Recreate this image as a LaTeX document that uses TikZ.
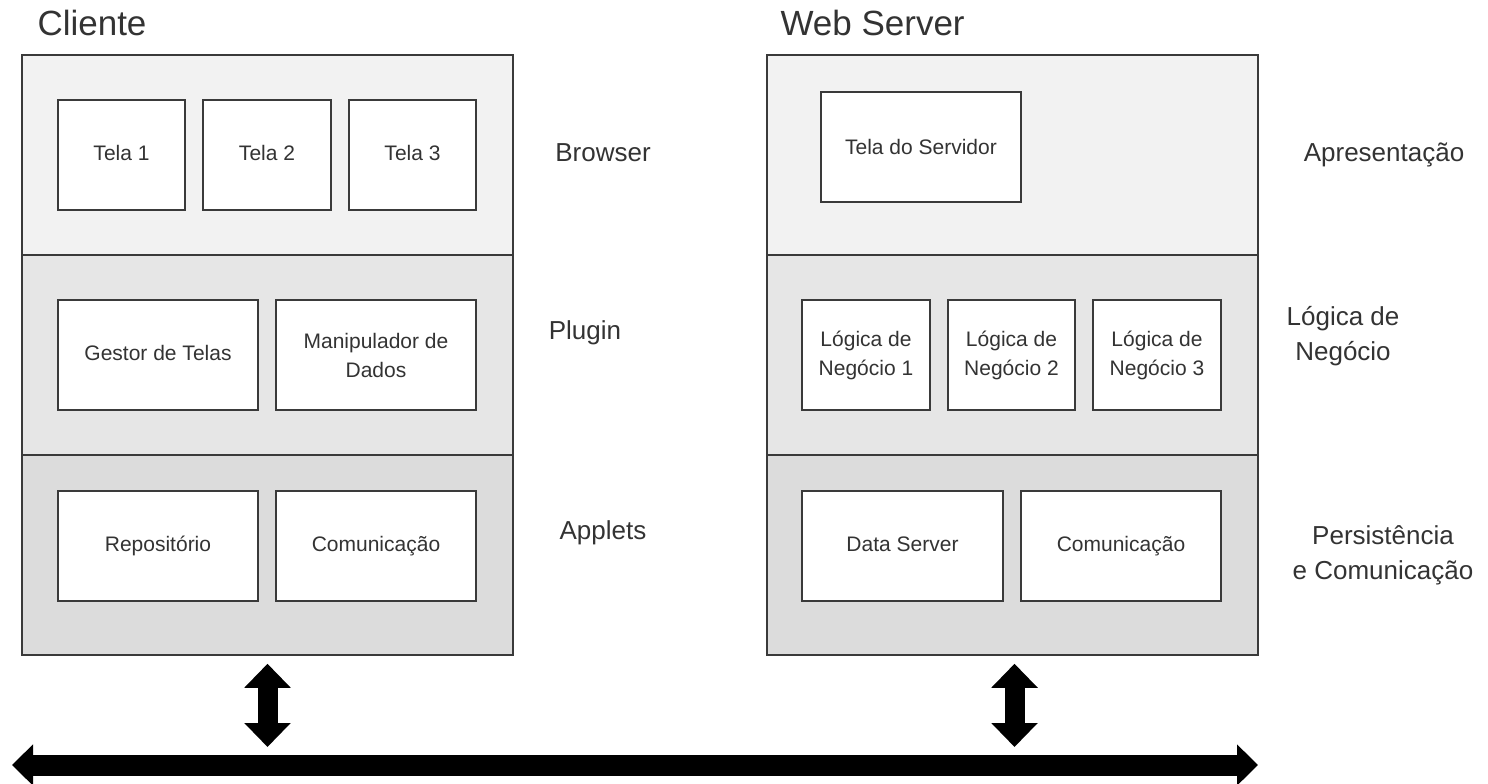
\documentclass[tikz,border=0pt]{standalone}
\usepackage{fontspec}
\setmainfont{Liberation Sans}
\usetikzlibrary{arrows.meta}
\definecolor{ink}{HTML}{333333}
\definecolor{edge}{HTML}{3A3A3A}
\definecolor{secA}{HTML}{F2F2F2}
\definecolor{secB}{HTML}{E6E6E6}
\definecolor{secC}{HTML}{DCDCDC}
\begin{document}
\begin{tikzpicture}[x=1pt,y=-1pt,
  sec/.style={draw=edge,line width=1.5pt,minimum width=491pt,minimum height=200pt,inner sep=0pt},
  bx/.style={draw=edge,line width=1.5pt,fill=white,text=ink,inner sep=0pt,align=center,
    font=\fontsize{21}{29}\selectfont},
  one/.style={text height=15pt,text depth=5pt},
  lbl/.style={text=ink,align=center,font=\fontsize{26}{35}\selectfont},
  ttl/.style={text=ink,anchor=west,font=\fontsize{35}{40}\selectfont},
  vdbl/.style={line width=20pt,{Triangle[width=45pt,length=24pt]}-{Triangle[width=45pt,length=24pt]}},
  hbus/.style={line width=21pt,{Triangle[width=40pt,length=21pt]}-{Triangle[width=40pt,length=21pt]}}
]
\useasboundingbox (0,0) rectangle (1488,784);

% titles
\node[ttl] (tcli) at (34,23) {Cliente};
\node[ttl] (tweb) at (777,23) {Web Server};

% client sections
\node[sec,fill=secA] (c1) at (267.5,155) {};
\node[sec,fill=secB] (c2) at (267.5,355) {};
\node[sec,fill=secC] (c3) at (267.5,555) {};
% server sections
\node[sec,fill=secA] (s1) at (1012.5,155) {};
\node[sec,fill=secB] (s2) at (1012.5,355) {};
\node[sec,fill=secC] (s3) at (1012.5,555) {};

% client boxes
\node[bx,one,minimum width=127pt,minimum height=110pt] (t1) at (121.5,155) {Tela 1};
\node[bx,one,minimum width=128pt,minimum height=110pt] (t2) at (267,155) {Tela 2};
\node[bx,one,minimum width=127pt,minimum height=110pt] (t3) at (412.5,155) {Tela 3};
\node[bx,one,minimum width=200pt,minimum height=110pt] (gt) at (158,355) {Gestor de Telas};
\node[bx,minimum width=200pt,minimum height=110pt] (md) at (376,355) {Manipulador de\\Dados};
\node[bx,one,minimum width=200pt,minimum height=110pt] (rp) at (158,546) {Repositório};
\node[bx,one,minimum width=200pt,minimum height=110pt] (cc) at (376,546) {Comunicação};

% server boxes
\node[bx,minimum width=200pt,minimum height=110pt,anchor=north,text height=16pt] (ts) at (921,91) {\\[-12pt]Tela do Servidor};
\node[bx,minimum width=128pt,minimum height=110pt] (l1) at (866,355) {Lógica de\\Negócio 1};
\node[bx,minimum width=127pt,minimum height=110pt] (l2) at (1011.5,355) {Lógica de\\Negócio 2};
\node[bx,minimum width=128pt,minimum height=110pt] (l3) at (1157,355) {Lógica de\\Negócio 3};
\node[bx,one,minimum width=201pt,minimum height=110pt] (ds) at (902.5,546) {Data Server};
\node[bx,one,minimum width=200pt,minimum height=110pt] (sc) at (1121,546) {Comunicação};

% side labels
\node[lbl] (lb1) at (603,153) {Browser};
\node[lbl] (lb2) at (585,333) {Plugin};
\node[lbl] (lb3) at (603,533) {Applets};
\node[lbl] (ls1) at (1384,155) {Apresentação};
\node[lbl] (ls2) at (1343,336) {Lógica de\\Negócio};
\node[lbl] (ls3) at (1383,555) {Persistência\\e Comunicação};

% bus and connectors
\coordinate (busL) at (12,765);
\coordinate (busR) at (1258,765);
\draw[hbus] (busL) -- (busR);
\draw[vdbl,shorten <=8pt,shorten >=18pt] (c3.south) -- (c3.south |- busL);
\draw[vdbl,shorten <=8pt,shorten >=18pt] ([xshift=2pt]s3.south) -- ([xshift=2pt]s3.south |- busL);
\end{tikzpicture}
\end{document}
